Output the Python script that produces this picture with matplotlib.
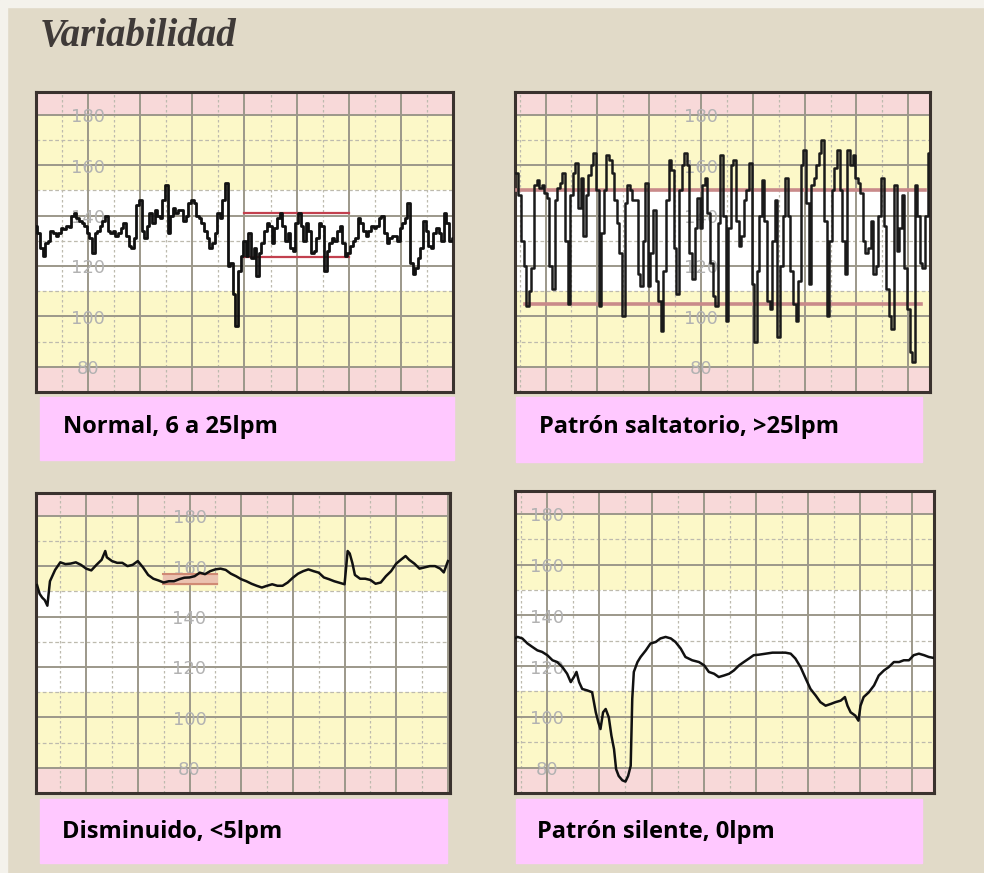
import os
import numpy as np
import matplotlib.pyplot as plt
from matplotlib import font_manager as fm
from matplotlib.patches import Rectangle

# Panel 1: variabilidad normal (muestras cada 0.05 unidades de rejilla)
fcf_normal = [136, 133, 127, 124, 129, 130, 134, 133, 132, 133, 135, 134.5, 136, 135.6, 140, 141, 139, 138, 137, 136,
              133, 131, 125, 133, 134, 136, 138, 140, 134, 133, 134, 132, 133, 135, 137, 132, 128, 127, 131, 144,
              146, 134, 131, 136, 141, 137, 142, 140, 139, 146, 152, 133, 140, 143, 141, 142, 142, 138, 140, 145,
              146, 145, 140, 139, 137, 134, 131, 127, 129, 133, 141, 139, 146, 153, 120, 121, 109, 96, 118, 124,
              130, 124, 133, 123, 127, 116, 125, 129, 134, 137, 136, 129, 135, 139, 141, 136, 130, 133, 127, 126,
              137, 141, 136, 130, 137, 134, 125, 126, 131, 137, 136, 118, 126, 129, 131, 130, 134, 136, 129, 124,
              125, 128, 130, 131, 139, 137, 134, 132, 134, 136, 135, 136, 139, 140, 133, 129, 131, 132, 132, 130,
              135, 137, 139, 145, 121, 117, 119, 123, 127, 138, 134, 128, 127, 133, 135, 133, 130, 141, 137, 130,
              131]

# Panel 2: patron saltatorio
fcf_saltatorio = [157, 157, 148, 130, 120, 104, 110, 119, 152, 154,
                  151, 152, 149, 147, 120, 111, 146, 151, 153, 157,
                  130, 105, 148, 157, 161, 143, 155, 132, 148, 156,
                  160, 165, 150, 104, 133, 150, 164, 162, 157, 146,
                  137, 125, 100, 145, 152, 150, 146, 146, 117, 112,
                  130, 153, 112, 125, 142, 114, 106, 94, 118, 146,
                  162, 158, 127, 109, 150, 160, 165, 160, 125, 115,
                  135, 147, 135, 152, 155, 141, 121, 108, 104, 137,
                  164, 140, 98, 135, 160, 162, 138, 128, 132, 146,
                  150, 161, 113, 90, 118, 140, 154, 138, 106, 103,
                  130, 146, 92, 120, 140, 155, 140, 118, 105, 98,
                  114, 160, 166, 145, 113, 152, 155, 160, 165, 170,
                  138, 100, 130, 150, 159, 166, 150, 130, 117, 166,
                  160, 164, 155, 153, 149, 130, 125, 127, 138, 117,
                  120, 140, 155, 136, 111, 100, 95, 152, 126, 135,
                  148, 119, 103, 86, 82, 152, 140, 121, 119, 140,
                  165]

# Panel 3: variabilidad disminuida
t_dism = [0.05, 0.10, 0.15, 0.20, 0.25, 0.30, 0.40, 0.50, 0.60, 0.70, 0.80, 0.90, 1.00, 1.10, 1.20, 1.30, 1.37,
          1.40, 1.50, 1.60, 1.70, 1.80, 1.90, 2.00, 2.10, 2.20, 2.30, 2.40, 2.50, 2.60, 2.70, 2.80, 2.90, 3.00,
          3.10, 3.20, 3.30, 3.40, 3.50, 3.60, 3.70, 3.80, 3.90, 4.00, 4.10, 4.20, 4.30, 4.40, 4.50, 4.60, 4.70,
          4.80, 4.90, 5.00, 5.10, 5.20, 5.30, 5.40, 5.50, 5.60, 5.70, 5.80, 5.90, 6.00, 6.06, 6.10, 6.15, 6.20,
          6.30, 6.40, 6.50, 6.60, 6.70, 6.80, 6.90, 7.00, 7.10, 7.18, 7.25, 7.35, 7.45, 7.55, 7.65, 7.75, 7.85,
          7.92, 8.00]
fcf_dism = [152.5, 149, 147.5, 146.5, 144.3, 154, 158.5, 161.5, 160.8, 161, 161.5, 160.5, 159, 158.3, 160.5, 162.5, 166,
            163.5, 162, 161.3, 161.3, 160, 160.5, 162, 159.5, 156.5, 155, 154.3, 153.5, 154, 154, 154.8, 155.4, 155.5,
            156, 157.4, 156.8, 158, 158.7, 159, 158.5, 157, 156, 154.8, 154, 153, 152.2, 151.5, 152.2, 152.8, 152.2,
            152.2, 153.5, 155.4, 157, 158, 158.7, 158, 157.4, 155.5, 154.8, 154, 153.4, 152.8, 166, 165, 161.3, 156.5,
            155, 155, 154.5, 153, 153.5, 156, 158, 161, 162.7, 164, 162.5, 161, 159, 159.5, 160, 160, 159,
            157.5, 162]

# Panel 4: patron silente
t_sil = [0.38, 0.43, 0.52, 0.62, 0.71, 0.81, 0.90, 1.00, 1.10, 1.19, 1.29, 1.38, 1.45, 1.51, 1.56, 1.61, 1.67, 1.77,
         1.86, 1.93, 1.98, 2.02, 2.07, 2.12, 2.18, 2.23, 2.28, 2.32, 2.37, 2.44, 2.50, 2.55, 2.60, 2.63, 2.66, 2.73,
         2.79, 2.89, 2.98, 3.08, 3.17, 3.27, 3.37, 3.46, 3.56, 3.65, 3.78, 3.91, 4.01, 4.10, 4.20, 4.29, 4.39, 4.49,
         4.58, 4.68, 4.77, 4.87, 4.96, 5.06, 5.19, 5.32, 5.44, 5.57, 5.67, 5.76, 5.86, 5.96, 6.05, 6.15, 6.24, 6.34,
         6.44, 6.53, 6.63, 6.71, 6.76, 6.82, 6.91, 6.97, 7.01, 7.07, 7.17, 7.27, 7.36, 7.46, 7.55, 7.65, 7.75, 7.84,
         7.94, 8.03, 8.13, 8.23, 8.32, 8.42]
fcf_sil = [131, 131.5, 130.9, 128.9, 127.6, 126.2, 125.6, 124.3, 122.3, 121.6, 119.6, 117, 113.7, 115.7, 117.7, 113.7,
           111, 110.4, 109.7, 101.8, 97.8, 95.2, 101.8, 103.1, 99.8, 92.6, 87.3, 79.4, 76.7, 75, 74.5, 76.7, 80.7,
           107.1, 117.7, 121.6, 123.6, 126.2, 128.9, 129.5, 130.9, 131.5, 130.9, 129.5, 126.9, 123.6, 122.3, 121.6,
           120.3, 117.7, 117, 115.7, 116.3, 117, 118.3, 120.3, 121.6, 123, 124.3, 124.5, 124.9, 125.3, 125.3, 125.3,
           124.9, 123, 119.6, 115, 111, 108.4, 105.8, 104.4, 105.1, 105.8, 106.4, 107.8, 104.4, 101.8, 100.5, 98.5,
           104.4, 107.8, 109.7, 112.4, 116.3, 118.3, 119.6, 121.6, 121.6, 122.3, 122.3, 124.3, 124.9, 124.3, 123.6,
           123.2]

etiquetas_y = [80, 100, 120, 140, 160, 180]
titulos = ["Normal, 6 a 25lpm", "Patrón saltatorio, >25lpm",
           "Disminuido, <5lpm", "Patrón silente, 0lpm"]

W, H = 984, 873
FONDO = '#E1DAC8'
ROSA = '#F8D9D9'
AMARILLO = '#FCF8C8'
REJILLA = '#9C988A'
REJILLA_MENOR = '#BDBAAE'
CAJA = '#FFC8FF'


def fuente(nombre_archivo, respaldo):
    # busca el fichero de la fuente; si no aparece usa la familia de respaldo
    for f in fm.findSystemFonts():
        if os.path.basename(f).lower().startswith(nombre_archivo.lower()):
            return fm.FontProperties(fname=f)
    return fm.FontProperties(family=respaldo, weight='bold', style='italic')


fig = plt.figure(figsize=(W / 100, H / 100), dpi=100)
fig.patch.set_facecolor(FONDO)


def px_rect(left, top, right, bottom):
    return [left / W, 1 - bottom / H, (right - left) / W, (bottom - top) / H]


# bordes blancos del recorte original
fig.patches.append(Rectangle((0, 1 - 7 / H), 1, 7 / H, transform=fig.transFigure,
                             color='#F4F2EC', zorder=0))
fig.patches.append(Rectangle((0, 0), 7 / W, 1, transform=fig.transFigure,
                             color='#F4F2EC', zorder=0))


def panel(rect, xlim, x_etiq):
    ax = fig.add_axes(rect)
    ax.set_xlim(*xlim)
    ax.set_ylim(70, 189)
    ax.set_facecolor('white')
    ax.axhspan(50, 80, color=ROSA, lw=0, zorder=0)
    ax.axhspan(180, 200, color=ROSA, lw=0, zorder=0)
    ax.axhspan(80, 110, color=AMARILLO, lw=0, zorder=0)
    ax.axhspan(150, 180, color=AMARILLO, lw=0, zorder=0)
    for v in range(90, 180, 20):
        ax.axhline(v, color=REJILLA_MENOR, lw=0.9, ls=(0, (3, 2)), zorder=1)
    for v in np.arange(0.5, 9, 1):
        ax.axvline(v, color=REJILLA_MENOR, lw=0.9, ls=(0, (2, 2)), zorder=1)
    for v in etiquetas_y:
        ax.axhline(v, color=REJILLA, lw=1.4, zorder=1)
    for v in range(0, 10):
        ax.axvline(v, color=REJILLA, lw=1.4, zorder=1)
    for v in etiquetas_y:
        ax.text(x_etiq, v - 1, str(v), ha='center', va='center', fontsize=13,
                color='#B2B2B2', zorder=2)
    ax.set_xticks([])
    ax.set_yticks([])
    for s in ax.spines.values():
        s.set_color('#3A322E')
        s.set_linewidth(2.2)
    return ax


ax1 = panel(px_rect(36, 92, 453, 392), (0, 8.0), 1)
ax2 = panel(px_rect(515, 92, 930, 392), (0.41, 8.42), 4)
ax3 = panel(px_rect(36, 493, 450, 793), (0.03, 8.04), 3)
ax4 = panel(px_rect(515, 491, 934, 793), (0.38, 8.42), 1)

# trazados
x1 = np.linspace(0, 8, len(fcf_normal))
ax1.plot(x1, fcf_normal, color='#111111', lw=2.0, drawstyle='steps-mid', zorder=4)
ax1.plot([4, 6], [141, 141], color='#C2404E', lw=1.6, zorder=3)
ax1.plot([4, 6], [123.5, 123.5], color='#C2404E', lw=1.6, zorder=3)

x2 = np.linspace(0.40, 8.40, len(fcf_saltatorio))
ax2.plot([0.45, 8.33], [150, 150], color='#C98A8A', lw=2.6, zorder=3)
ax2.plot([0.6, 8.25], [105, 105], color='#C98A8A', lw=2.6, zorder=3)
ax2.plot(x2, fcf_saltatorio, color='#1A1A1A', lw=1.8, drawstyle='steps-mid', zorder=4)

ax3.fill_between([2.49, 3.53], 152.8, 156.8, color='#EBC2B0', zorder=3)
ax3.plot([2.49, 3.53], [156.8, 156.8], color='#D08A74', lw=1.5, zorder=3)
ax3.plot([2.49, 3.53], [152.8, 152.8], color='#D08A74', lw=1.5, zorder=3)
ax3.plot(t_dism, fcf_dism, color='#111111', lw=1.8, zorder=4)

ax4.plot(t_sil, fcf_sil, color='#111111', lw=1.8, zorder=4)

# cajas de texto rosas
cajas = [(40, 397, 454, 460), (516, 397, 922, 462), (40, 799, 447, 863), (516, 799, 922, 863)]
pos_texto = [(63, 433), (539, 433), (62, 838), (537, 838)]
for (l, t, r, b), (tx, ty), txt in zip(cajas, pos_texto, titulos):
    fig.patches.append(Rectangle((l / W, 1 - b / H), (r - l) / W, (b - t) / H,
                                 transform=fig.transFigure, color=CAJA, zorder=1))
    fig.text(tx / W, 1 - ty / H, txt, fontsize=17, fontweight='bold',
             family='Open Sans', ha='left', va='baseline', color='black')

fp_titulo = fuente('LiberationSerif-BoldItalic', 'DejaVu Serif')
fp_titulo.set_size(28)
fig.text(40 / W, 1 - 46 / H, "Variabilidad", fontproperties=fp_titulo,
         color='#3F3A38', ha='left', va='baseline')

plt.savefig('out.png', dpi=100, facecolor=fig.get_facecolor())
